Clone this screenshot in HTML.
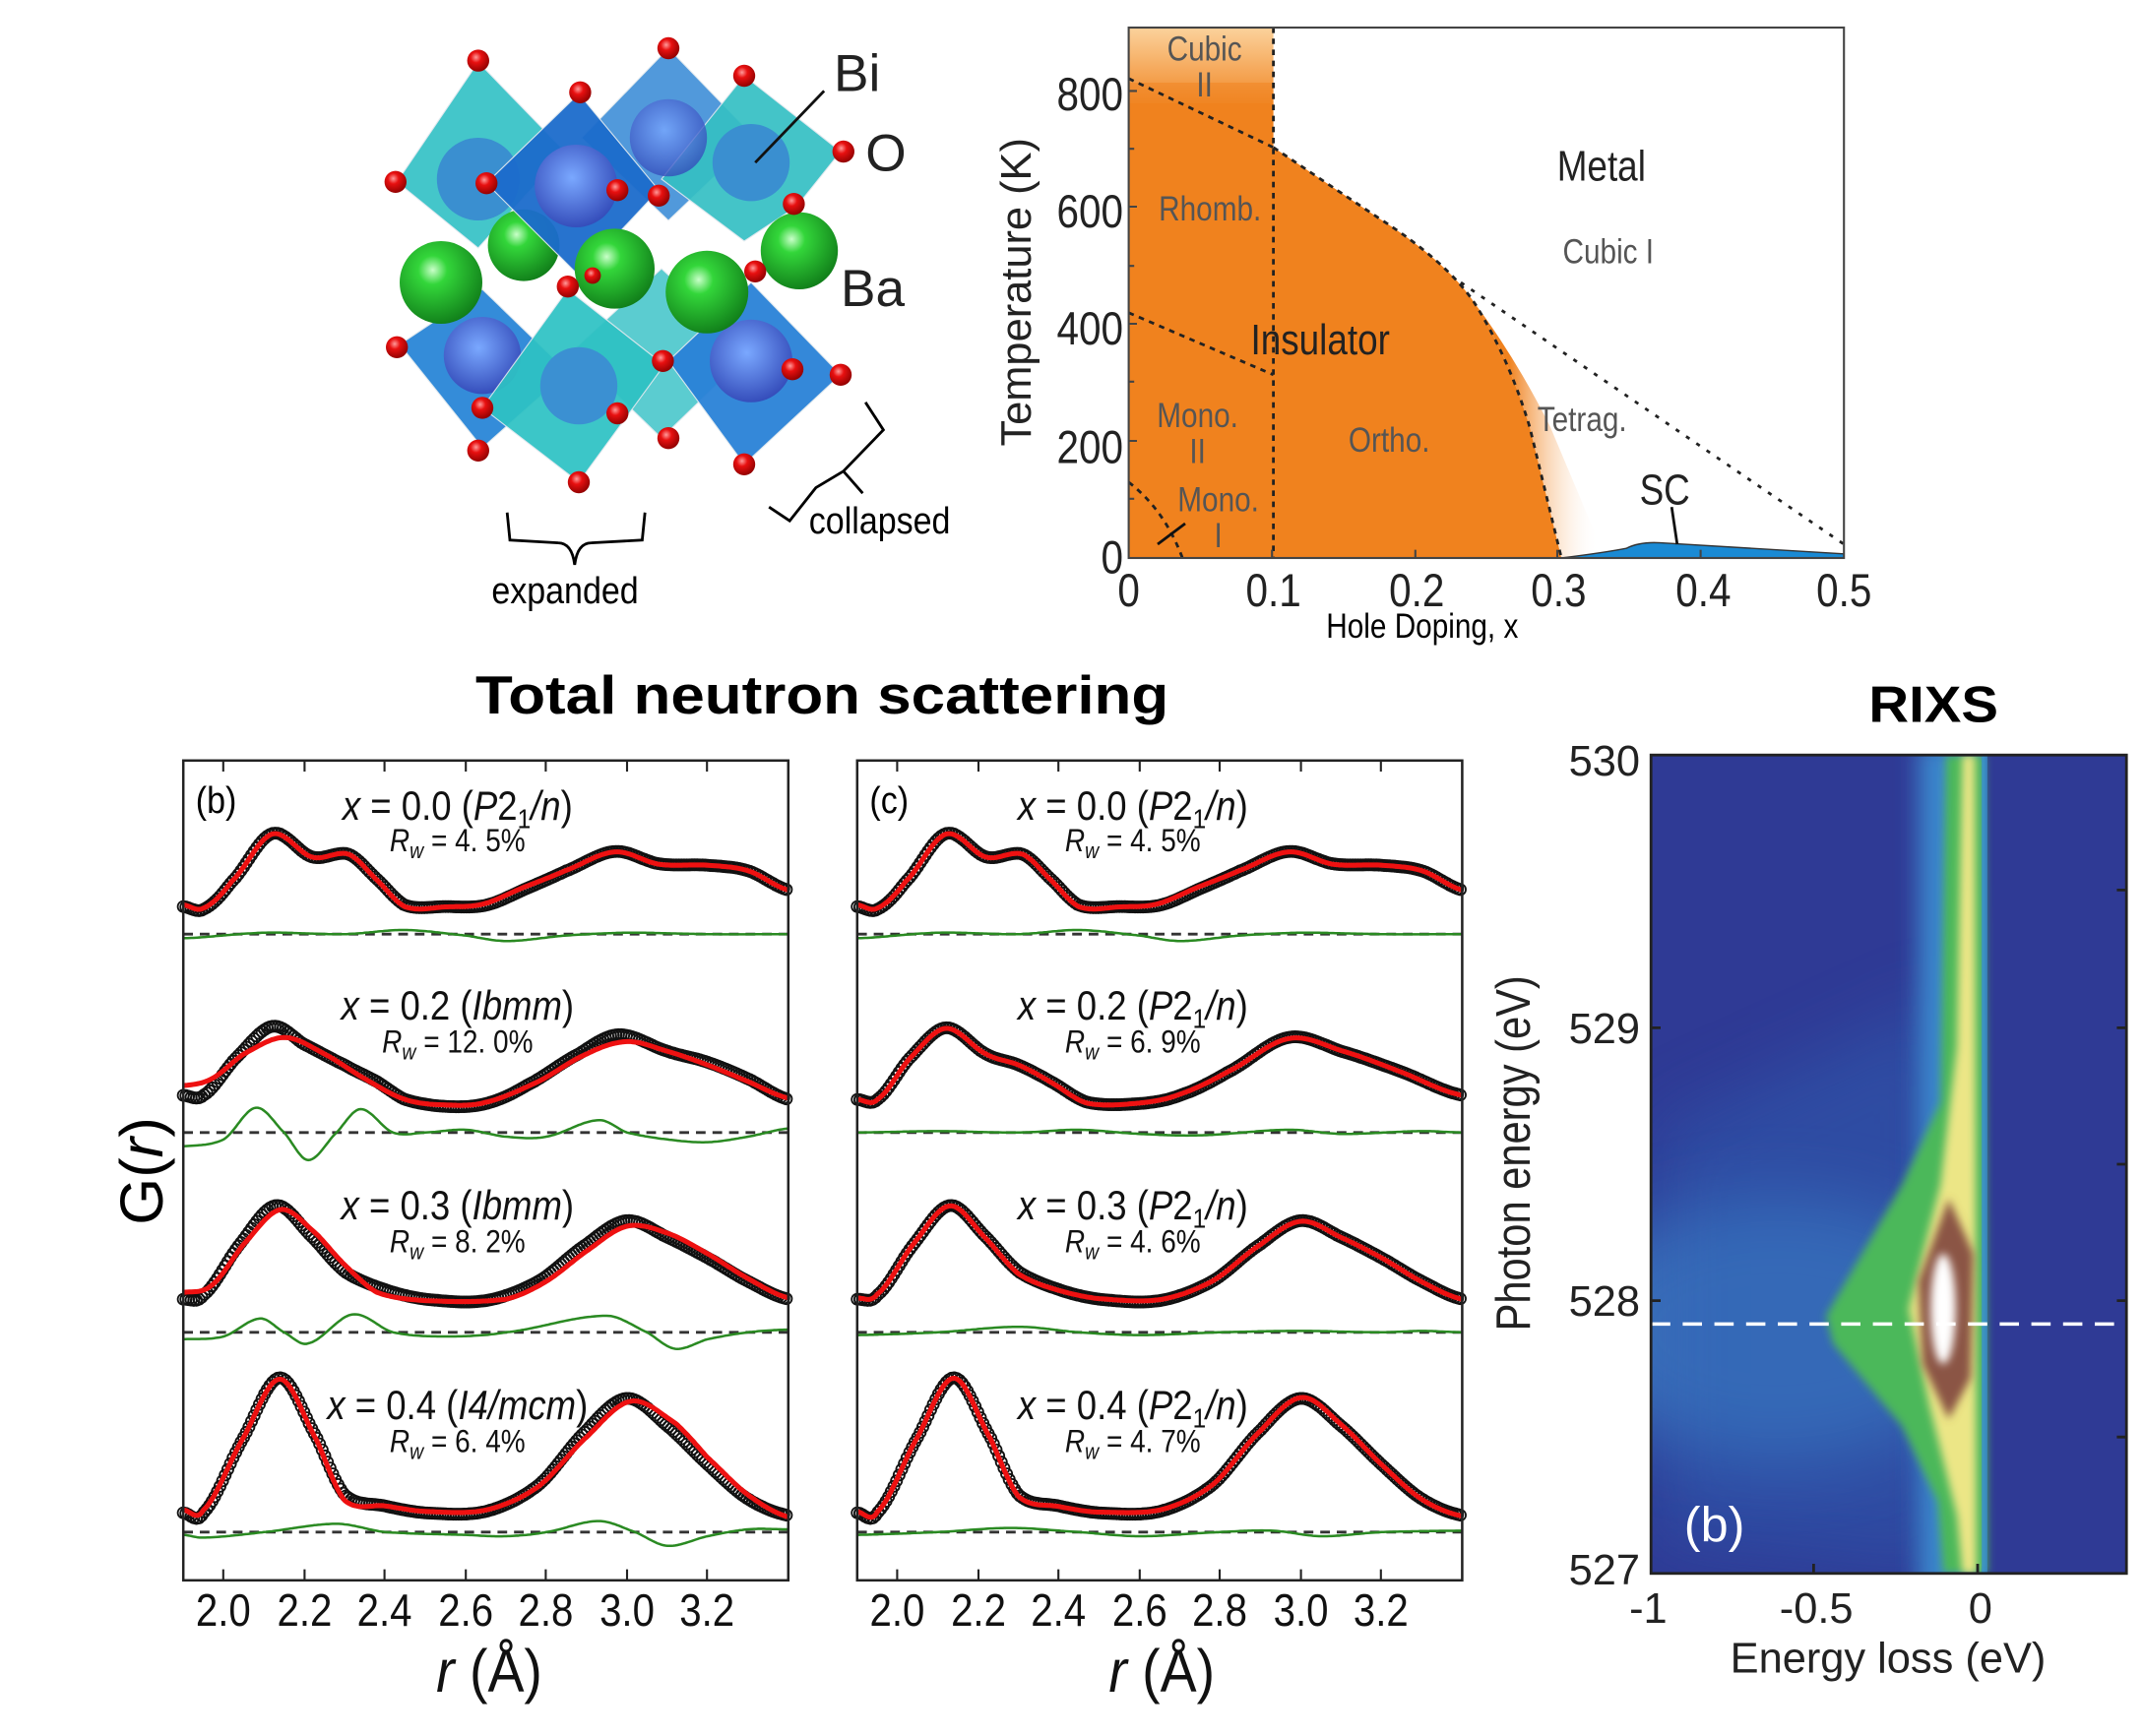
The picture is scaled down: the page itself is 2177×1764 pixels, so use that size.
<!DOCTYPE html>
<html><head><meta charset="utf-8"><style>
html,body{margin:0;padding:0;background:#fff}
svg{display:block}
text{font-family:"Liberation Sans",Arial,sans-serif}
</style></head><body>
<svg id="s" xmlns="http://www.w3.org/2000/svg" width="2177" height="1764" viewBox="0 0 1555 1260" preserveAspectRatio="none">
<defs>
<linearGradient id="cub" x1="0" y1="0" x2="0" y2="1"><stop offset="0" stop-color="#fbd29c"/><stop offset="1" stop-color="#f0821e"/></linearGradient>
<linearGradient id="tet" gradientUnits="userSpaceOnUse" x1="1095" y1="0" x2="1160" y2="0"><stop offset="0" stop-color="#f0821e"/><stop offset="1" stop-color="#ffffff" stop-opacity="0"/></linearGradient>
<radialGradient id="gs" cx="0.4" cy="0.35" r="0.7"><stop offset="0" stop-color="#c9ffc9"/><stop offset="0.25" stop-color="#33d63a"/><stop offset="1" stop-color="#0f7a18"/></radialGradient>
<radialGradient id="rs" cx="0.4" cy="0.35" r="0.7"><stop offset="0" stop-color="#ff9a9a"/><stop offset="0.35" stop-color="#e81010"/><stop offset="1" stop-color="#8a0000"/></radialGradient>
<radialGradient id="bs" cx="0.45" cy="0.4" r="0.7"><stop offset="0" stop-color="#7aa8ff"/><stop offset="1" stop-color="#2a3fb0"/></radialGradient>
<filter id="b3" x="-50%" y="-50%" width="200%" height="200%"><feGaussianBlur stdDeviation="3"/></filter>
<filter id="b4" x="-50%" y="-50%" width="200%" height="200%"><feGaussianBlur stdDeviation="4"/></filter>
<filter id="b8" x="-50%" y="-50%" width="200%" height="200%"><feGaussianBlur stdDeviation="8"/></filter>
<filter id="b25" x="-50%" y="-50%" width="200%" height="200%"><feGaussianBlur stdDeviation="25"/></filter>
<clipPath id="rx"><rect x="1198" y="548" width="345" height="594"/></clipPath>
<clipPath id="rxl"><rect x="1198" y="548" width="242" height="594"/></clipPath>
<clipPath id="pd"><rect x="819" y="20" width="519" height="385"/></clipPath>
</defs>

<!-- ===== Crystal ===== -->
<g id="crystal" stroke="#dfe8ee" stroke-width="0.8">
  <polygon points="485,35 548,100 485,160 422,100" fill="#3f8fd8" opacity="0.9"/>
  <polygon points="480,195 545,255 480,318 415,255" fill="#3fc4c8" opacity="0.85"/>
  <polygon points="347,45 410,110 347,180 288,132" fill="#35c2c6" opacity="0.92"/>
  <polygon points="540,55 610,110 578,150 540,175 480,130" fill="#35c0c4" opacity="0.92"/>
  <circle cx="347" cy="130" r="30" fill="#3a8fd0" stroke="none"/>
  <circle cx="545" cy="118" r="28" fill="#3a8fd0" stroke="none"/>
  <circle cx="485" cy="100" r="28" fill="url(#bs)" stroke="none" opacity="0.8"/>
  <circle cx="380" cy="178" r="26" fill="url(#gs)" stroke="none"/>
  <circle cx="580" cy="182" r="28" fill="url(#gs)" stroke="none"/>
  <polygon points="420,68 478,138 420,200 353,133" fill="#1c6ccc" opacity="0.95"/>
  <circle cx="418" cy="135" r="30" fill="url(#bs)" stroke="none"/>
  <polygon points="350,210 412,270 350,325 290,250" fill="#2a86d8" opacity="0.95"/>
  <polygon points="545,205 610,272 540,337 485,262" fill="#2a82d8" opacity="0.95"/>
  <circle cx="350" cy="258" r="28" fill="url(#bs)" stroke="none"/>
  <circle cx="545" cy="262" r="30" fill="url(#bs)" stroke="none"/>
  <polygon points="412,210 482,265 420,350 350,296" fill="#2ec2c4" opacity="0.93"/>
  <circle cx="420" cy="280" r="28" fill="#3b90d2" stroke="none"/>
  <circle cx="320" cy="205" r="30" fill="url(#gs)" stroke="none"/>
  <circle cx="446" cy="195" r="29" fill="url(#gs)" stroke="none"/>
  <circle cx="513" cy="212" r="30" fill="url(#gs)" stroke="none"/>
  <g fill="url(#rs)" stroke="none">
    <circle cx="347" cy="44" r="8"/><circle cx="485" cy="35" r="8"/><circle cx="421" cy="67" r="8"/><circle cx="540" cy="55" r="8"/>
    <circle cx="287" cy="132" r="8"/><circle cx="353" cy="133" r="8"/><circle cx="448" cy="138" r="8"/><circle cx="478" cy="142" r="8"/>
    <circle cx="612" cy="110" r="8"/><circle cx="576" cy="148" r="8"/><circle cx="412" cy="208" r="8"/><circle cx="548" cy="197" r="8"/>
    <circle cx="481" cy="262" r="8"/><circle cx="288" cy="252" r="8"/><circle cx="350" cy="296" r="8"/><circle cx="448" cy="300" r="8"/>
    <circle cx="575" cy="268" r="8"/><circle cx="610" cy="272" r="8"/><circle cx="347" cy="327" r="8"/><circle cx="420" cy="350" r="8"/>
    <circle cx="540" cy="337" r="8"/><circle cx="485" cy="318" r="8"/><circle cx="430" cy="200" r="6"/>
  </g>
</g>
<line x1="598" y1="66" x2="548" y2="118" stroke="#111" stroke-width="2"/>
<text x="605" y="66" font-size="38" fill="#222">Bi</text>
<text x="628" y="124" font-size="38" fill="#222">O</text>
<text x="610" y="222" font-size="38" fill="#222">Ba</text>
<path d="M368,372 L370,392 L405,394 Q415,394 417,410 Q419,394 429,394 L466,392 L468,372" fill="none" stroke="#000" stroke-width="2"/>
<text transform="translate(410,438) scale(0.9,1)" text-anchor="middle" font-size="27">expanded</text>
<path d="M628,292 L641,312 L612,342 L626,358 M612,342 L592,354 L573,378 L558,368" fill="none" stroke="#000" stroke-width="2"/>
<text transform="translate(587,387) scale(0.9,1)" font-size="27">collapsed</text>

<!-- ===== Phase diagram ===== -->
<g clip-path="url(#pd)">
<rect x="819" y="20" width="105" height="60" fill="url(#cub)"/>
<path d="M819,75 L924,75 L924,107 L1000,158 Q1050,190 1070,220 Q1095,260 1110,310 L1133,405 L819,405 Z" fill="#f0821e"/>
<rect x="819" y="60" width="105" height="20" fill="#f0821e" opacity="0.5"/>
<path d="M1070,220 Q1100,260 1125,310 L1165,405 L1133,405 L1110,310 Q1095,260 1070,220 Z" fill="url(#tet)"/>
<path d="M1133,405 Q1165,401 1180,398 Q1190,393 1205,394 L1338,402 L1338,406 L1133,406 Z" fill="#1a8ad4" stroke="#333" stroke-width="1"/>
</g>
<g fill="none" stroke="#222" stroke-width="2" stroke-dasharray="4,4">
<path d="M819,57 L924,107"/>
<path d="M924,20 L924,405"/>
<path d="M924,107 L1000,158 Q1050,190 1070,220 Q1095,260 1110,310 L1133,405"/>
<path d="M819,227 L924,272"/>
<path d="M819,350 Q845,370 858,405"/>
<path d="M1060,205 L1338,395" stroke-dasharray="3,6"/>
</g>
<path d="M840,395 L860,380" stroke="#111" stroke-width="2"/>
<path d="M1213,368 L1217,395" stroke="#111" stroke-width="2"/>
<rect x="819" y="20" width="519" height="385" fill="none" stroke="#444" stroke-width="1.5"/>
<g stroke="#444" stroke-width="1.5">
<path d="M819,320 h6 M819,235 h6 M819,150 h6 M819,66 h6 M819,362 h4 M819,277 h4 M819,193 h4 M819,108 h4"/>
<path d="M923,405 v-6 M1027,405 v-6 M1130,405 v-6 M1234,405 v-6"/>
</g>
<g font-size="34" text-anchor="end" fill="#222">
<text transform="translate(815,416) scale(0.85,1)">0</text>
<text transform="translate(815,336) scale(0.85,1)">200</text>
<text transform="translate(815,250) scale(0.85,1)">400</text>
<text transform="translate(815,165) scale(0.85,1)">600</text>
<text transform="translate(815,80) scale(0.85,1)">800</text>
</g>
<g font-size="34" text-anchor="middle" fill="#222">
<text transform="translate(819,440) scale(0.85,1)">0</text>
<text transform="translate(924,440) scale(0.85,1)">0.1</text>
<text transform="translate(1028,440) scale(0.85,1)">0.2</text>
<text transform="translate(1131,440) scale(0.85,1)">0.3</text>
<text transform="translate(1236,440) scale(0.85,1)">0.4</text>
<text transform="translate(1338,440) scale(0.85,1)">0.5</text>
</g>
<text transform="translate(748,212) rotate(-90)" text-anchor="middle" font-size="31" fill="#222">Temperature (K)</text>
<text transform="translate(1032,463) scale(0.85,1)" text-anchor="middle" font-size="25">Hole Doping, x</text>
<g fill="#555" font-size="25" text-anchor="middle">
<text transform="translate(874,44) scale(0.85,1)">Cubic</text>
<text transform="translate(874,70) scale(0.85,1)">II</text>
<text transform="translate(878,160) scale(0.85,1)">Rhomb.</text>
<text transform="translate(869,310) scale(0.85,1)">Mono.</text>
<text transform="translate(869,336) scale(0.85,1)">II</text>
<text transform="translate(884,371) scale(0.85,1)">Mono.</text>
<text transform="translate(884,397) scale(0.85,1)">I</text>
<text transform="translate(1008,328) scale(0.85,1)">Ortho.</text>
<text transform="translate(1148,313) scale(0.85,1)">Tetrag.</text>
<text transform="translate(1167,191) scale(0.85,1)">Cubic I</text>
</g>
<g fill="#222" font-size="31" text-anchor="middle">
<text transform="translate(1162,131) scale(0.85,1)">Metal</text>
<text transform="translate(958,257) scale(0.85,1)">Insulator</text>
<text transform="translate(1208,366) scale(0.85,1)">SC</text>
</g>

<!-- ===== Titles ===== -->
<text x="345" y="518" font-size="39" font-weight="bold" textLength="503" lengthAdjust="spacingAndGlyphs">Total neutron scattering</text>
<text x="1356" y="524" font-size="37" font-weight="bold" textLength="94" lengthAdjust="spacingAndGlyphs">RIXS</text>

<!-- ===== PDF panels ===== -->
<g id="curves"></g>
<g fill="none" stroke="#222" stroke-width="1.8">
<rect x="133" y="552" width="439" height="595"/>
<rect x="622" y="552" width="439" height="595"/>
</g>
<g stroke="#222" stroke-width="1.5">
<path d="M162,1147 v-8 M221,1147 v-8 M279,1147 v-8 M338,1147 v-8 M396,1147 v-8 M455,1147 v-8 M513,1147 v-8 M162,552 v8 M221,552 v8 M279,552 v8 M338,552 v8 M396,552 v8 M455,552 v8 M513,552 v8"/>
<path d="M651,1147 v-8 M710,1147 v-8 M768,1147 v-8 M827,1147 v-8 M885,1147 v-8 M944,1147 v-8 M1002,1147 v-8 M651,552 v8 M710,552 v8 M768,552 v8 M827,552 v8 M885,552 v8 M944,552 v8 M1002,552 v8"/>
</g>
<g font-size="33" text-anchor="middle" fill="#111">
<text transform="translate(162,1180) scale(0.87,1)">2.0</text><text transform="translate(221,1180) scale(0.87,1)">2.2</text><text transform="translate(279,1180) scale(0.87,1)">2.4</text><text transform="translate(338,1180) scale(0.87,1)">2.6</text><text transform="translate(396,1180) scale(0.87,1)">2.8</text><text transform="translate(455,1180) scale(0.87,1)">3.0</text><text transform="translate(513,1180) scale(0.87,1)">3.2</text>
<text transform="translate(651,1180) scale(0.87,1)">2.0</text><text transform="translate(710,1180) scale(0.87,1)">2.2</text><text transform="translate(768,1180) scale(0.87,1)">2.4</text><text transform="translate(827,1180) scale(0.87,1)">2.6</text><text transform="translate(885,1180) scale(0.87,1)">2.8</text><text transform="translate(944,1180) scale(0.87,1)">3.0</text><text transform="translate(1002,1180) scale(0.87,1)">3.2</text>
</g>
<g font-size="44" text-anchor="middle" fill="#111">
<text transform="translate(355,1228) scale(0.9,1)"><tspan font-style="italic">r</tspan> (Å)</text>
<text transform="translate(843,1228) scale(0.9,1)"><tspan font-style="italic">r</tspan> (Å)</text>
</g>
<text transform="translate(118,850) rotate(-90)" text-anchor="middle" font-size="44">G(<tspan font-style="italic">r</tspan>)</text>
<text transform="translate(142,590) scale(0.9,1)" font-size="27">(b)</text>
<text transform="translate(631,590) scale(0.9,1)" font-size="27">(c)</text>

<g font-size="30" text-anchor="middle" fill="#111">
<text transform="translate(332,595) scale(0.87,1)"><tspan font-style="italic">x</tspan> = 0.0 (<tspan font-style="italic">P</tspan>2<tspan dy="6" font-size="20">1</tspan><tspan dy="-6" font-style="italic">/n</tspan>)</text>
<text transform="translate(332,740) scale(0.87,1)"><tspan font-style="italic">x</tspan> = 0.2 (<tspan font-style="italic">Ibmm</tspan>)</text>
<text transform="translate(332,885) scale(0.87,1)"><tspan font-style="italic">x</tspan> = 0.3 (<tspan font-style="italic">Ibmm</tspan>)</text>
<text transform="translate(332,1030) scale(0.87,1)"><tspan font-style="italic">x</tspan> = 0.4 (<tspan font-style="italic">I4/mcm</tspan>)</text>
<text transform="translate(822,595) scale(0.87,1)"><tspan font-style="italic">x</tspan> = 0.0 (<tspan font-style="italic">P</tspan>2<tspan dy="6" font-size="20">1</tspan><tspan dy="-6" font-style="italic">/n</tspan>)</text>
<text transform="translate(822,740) scale(0.87,1)"><tspan font-style="italic">x</tspan> = 0.2 (<tspan font-style="italic">P</tspan>2<tspan dy="6" font-size="20">1</tspan><tspan dy="-6" font-style="italic">/n</tspan>)</text>
<text transform="translate(822,885) scale(0.87,1)"><tspan font-style="italic">x</tspan> = 0.3 (<tspan font-style="italic">P</tspan>2<tspan dy="6" font-size="20">1</tspan><tspan dy="-6" font-style="italic">/n</tspan>)</text>
<text transform="translate(822,1030) scale(0.87,1)"><tspan font-style="italic">x</tspan> = 0.4 (<tspan font-style="italic">P</tspan>2<tspan dy="6" font-size="20">1</tspan><tspan dy="-6" font-style="italic">/n</tspan>)</text>
</g>
<g font-size="23" text-anchor="middle" fill="#111">
<text transform="translate(332,618) scale(0.87,1)"><tspan font-style="italic">R</tspan><tspan dy="5" font-size="16" font-style="italic">w</tspan><tspan dy="-5"> = 4. 5%</tspan></text>
<text transform="translate(332,764) scale(0.87,1)"><tspan font-style="italic">R</tspan><tspan dy="5" font-size="16" font-style="italic">w</tspan><tspan dy="-5"> = 12. 0%</tspan></text>
<text transform="translate(332,909) scale(0.87,1)"><tspan font-style="italic">R</tspan><tspan dy="5" font-size="16" font-style="italic">w</tspan><tspan dy="-5"> = 8. 2%</tspan></text>
<text transform="translate(332,1054) scale(0.87,1)"><tspan font-style="italic">R</tspan><tspan dy="5" font-size="16" font-style="italic">w</tspan><tspan dy="-5"> = 6. 4%</tspan></text>
<text transform="translate(822,618) scale(0.87,1)"><tspan font-style="italic">R</tspan><tspan dy="5" font-size="16" font-style="italic">w</tspan><tspan dy="-5"> = 4. 5%</tspan></text>
<text transform="translate(822,764) scale(0.87,1)"><tspan font-style="italic">R</tspan><tspan dy="5" font-size="16" font-style="italic">w</tspan><tspan dy="-5"> = 6. 9%</tspan></text>
<text transform="translate(822,909) scale(0.87,1)"><tspan font-style="italic">R</tspan><tspan dy="5" font-size="16" font-style="italic">w</tspan><tspan dy="-5"> = 4. 6%</tspan></text>
<text transform="translate(822,1054) scale(0.87,1)"><tspan font-style="italic">R</tspan><tspan dy="5" font-size="16" font-style="italic">w</tspan><tspan dy="-5"> = 4. 7%</tspan></text>
</g>

<!-- ===== RIXS ===== -->
<g clip-path="url(#rx)">
<rect x="1198" y="548" width="345" height="594" fill="#2f3a95"/>
<g clip-path="url(#rxl)">
<ellipse cx="1290" cy="965" rx="150" ry="95" fill="#3f82c8" opacity="0.75" filter="url(#b25)"/>
<path d="M1198,820 L1420,720 L1420,1142 L1198,1120 Z" fill="#2f62b4" opacity="0.45" filter="url(#b25)"/>
<rect x="1392" y="540" width="60" height="620" fill="#3a86cc" filter="url(#b8)"/>
</g>
<path d="M1440,548 L1412,548 L1408,800 L1380,860 L1325,955 L1330,975 L1380,1035 L1406,1090 L1410,1142 L1442,1142 Z" fill="#4cb85a" filter="url(#b3)"/>
<path d="M1433,548 L1424,548 L1420,760 L1408,860 L1385,950 L1400,1020 L1420,1100 L1424,1142 L1434,1142 Z" fill="#ece686" filter="url(#b3)"/>
<path d="M1414,870 L1432,910 L1430,1000 L1414,1030 L1395,990 L1392,930 Z" fill="#8b5545" filter="url(#b3)"/>
<ellipse cx="1410" cy="950" rx="9" ry="40" fill="#ffffff" filter="url(#b3)"/>
<rect x="1438" y="548" width="4" height="594" fill="#3a8ed2" opacity="0.8"/>
<line x1="1198" y1="961" x2="1543" y2="961" stroke="#fff" stroke-width="2.5" stroke-dasharray="14,9"/>
</g>
<rect x="1198" y="548" width="345" height="594" fill="none" stroke="#222" stroke-width="2"/>
<g stroke="#222" stroke-width="2">
<path d="M1198,746 h7 M1198,944 h7 M1543,646 h-7 M1543,746 h-7 M1543,845 h-7 M1543,944 h-7 M1543,1043 h-7 M1316,1142 v-7 M1435,1142 v-7"/>
</g>
<g font-size="31" text-anchor="end" fill="#222">
<text x="1190" y="563">530</text><text x="1190" y="757">529</text><text x="1190" y="955">528</text><text x="1190" y="1150">527</text>
</g>
<g font-size="31" text-anchor="middle" fill="#222">
<text x="1196" y="1178">-1</text><text x="1318" y="1178">-0.5</text><text x="1437" y="1178">0</text>
</g>
<text x="1370" y="1214" text-anchor="middle" font-size="31" fill="#222">Energy loss (eV)</text>
<text transform="translate(1110,837) rotate(-90) scale(0.85,1)" text-anchor="middle" font-size="35" fill="#222">Photon energy (eV)</text>
<text x="1222" y="1119" font-size="36" fill="#fff">(b)</text>
</svg>
<script>
(function(){
var g=document.getElementById("curves");
function ev(p,r){
  if(r<=p[0][0])return p[0][1];
  var n=p.length;
  if(r>=p[n-1][0])return p[n-1][1];
  var i=0;while(i<n-2&&r>p[i+1][0])i++;
  var t=(r-p[i][0])/(p[i+1][0]-p[i][0]);
  var p0=p[Math.max(i-1,0)][1],p1=p[i][1],p2=p[i+1][1],p3=p[Math.min(i+2,n-1)][1];
  var t2=t*t,t3=t2*t;
  return 0.5*((2*p1)+(-p0+p2)*t+(2*p0-5*p1+4*p2-p3)*t2+(-p0+3*p1-3*p2+p3)*t3);
}
var D1=[[1.9,2],[1.95,0],[2.02,20],[2.12,55],[2.22,38],[2.31,40],[2.38,22],[2.45,3],[2.55,2],[2.65,3],[2.75,15],[2.85,28],[2.97,42],[3.08,33],[3.2,32],[3.3,28],[3.4,14]];
var D2b=[[1.9,8],[1.95,8],[2.03,35],[2.12,58],[2.2,45],[2.3,30],[2.38,18],[2.45,5],[2.55,0],[2.65,2],[2.75,15],[2.88,38],[2.98,52],[3.1,40],[3.2,32],[3.3,20],[3.4,5]];
var R2b=[[1.9,15],[1.97,20],[2.05,38],[2.15,50],[2.25,38],[2.35,20],[2.45,5],[2.55,1],[2.65,3],[2.78,18],[2.9,38],[3.0,47],[3.1,40],[3.2,30],[3.3,18],[3.4,6]];
var D2c=[[1.9,5],[1.95,5],[2.03,35],[2.12,57],[2.22,38],[2.3,30],[2.38,18],[2.47,3],[2.6,2],[2.7,8],[2.82,25],[2.97,50],[3.1,40],[3.25,25],[3.4,8]];
var D3=[[1.9,5],[1.95,8],[2.04,45],[2.13,73],[2.22,50],[2.3,25],[2.4,12],[2.5,5],[2.65,4],[2.78,18],[2.9,45],[3.0,62],[3.1,50],[3.2,35],[3.3,18],[3.4,5]];
var R3b=[[1.9,10],[1.97,15],[2.05,45],[2.14,70],[2.22,55],[2.3,30],[2.38,10],[2.5,4],[2.7,5],[2.8,18],[2.9,40],[3.0,58],[3.1,53],[3.2,38],[3.3,20],[3.4,6]];
var D4=[[1.9,5],[1.95,5],[2.05,60],[2.14,103],[2.23,60],[2.3,18],[2.4,10],[2.5,5],[2.65,6],[2.78,25],[2.9,65],[3.0,88],[3.1,68],[3.2,40],[3.3,15],[3.4,3]];
var R4b=[[1.9,7],[1.95,7],[2.05,60],[2.14,102],[2.23,58],[2.3,14],[2.4,10],[2.5,6],[2.65,7],[2.78,24],[2.9,60],[3.01,86],[3.12,70],[3.2,45],[3.3,18],[3.4,2]];
var F1=[[1.9,-3],[2.1,1],[2.3,0],[2.45,3],[2.6,-1],[2.7,-5],[2.85,-1],[3.0,1],[3.2,0],[3.4,0]];
var F2b=[[1.9,-10],[2.0,-5],[2.08,18],[2.15,0],[2.21,-20],[2.28,0],[2.34,17],[2.42,0],[2.5,0],[2.6,2],[2.7,-3],[2.8,-3],[2.93,9],[3.0,0],[3.1,-5],[3.2,-7],[3.3,-3],[3.4,3]];
var F3b=[[1.9,-5],[2.0,-3],[2.09,10],[2.15,0],[2.21,-8],[2.32,13],[2.42,0],[2.55,-3],[2.7,0],[2.95,12],[3.05,0],[3.12,-12],[3.2,-5],[3.3,0],[3.4,2]];
var F4b=[[1.9,-2],[1.95,-4],[2.1,0],[2.28,6],[2.4,0],[2.6,-2],[2.7,-3],[2.8,0],[2.93,8],[3.02,0],[3.1,-10],[3.2,-3],[3.3,2],[3.4,2]];
var Fc2=[[1.9,0],[2.1,1],[2.3,0],[2.45,2],[2.6,-1],[2.75,-2],[2.97,2],[3.1,-1],[3.3,1],[3.4,0]];
var Fc3=[[1.9,-2],[2.1,0],[2.3,4],[2.45,0],[2.6,-2],[2.8,0],[3.0,1],[3.2,0],[3.3,1],[3.4,0]];
var Fc4=[[1.9,-2],[2.1,0],[2.28,3],[2.45,0],[2.6,-3],[2.8,0],[2.93,1],[3.05,-3],[3.2,0],[3.4,1]];
var rows=[
 [133,D1,660,F1,678,null],[133,D2b,803,F2b,822,R2b],[133,D3,948,F3b,967,R3b],[133,D4,1103,F4b,1112,R4b],
 [622,D1,660,F1,678,null],[622,D2c,803,Fc2,822,null],[622,D3,948,Fc3,967,null],[622,D4,1103,Fc4,1112,null]
];
var html="";
rows.forEach(function(R){
  var x0=R[0],D=R[1],b=R[2],F=R[3],db=R[4],RF=R[5];
  function X(r){return x0+(r-1.9)*292.7;}
  html+='<line x1="'+x0+'" y1="'+db+'" x2="'+(x0+439)+'" y2="'+db+'" stroke="#333" stroke-width="2" stroke-dasharray="7,5"/>';
  var pg="",pf="";
  for(var r=1.9;r<=3.4001;r+=0.005){
    var d=ev(D,r),f=ev(F,r);
    var fit=RF?ev(RF,r):(d-0.4*f);
    var x=X(r).toFixed(1);
    pg+=(pg?"L":"M")+x+","+(db-f).toFixed(1);
    pf+=(pf?"L":"M")+x+","+(b-fit).toFixed(1);
  }
  html+='<path d="'+pg+'" fill="none" stroke="#2a8a22" stroke-width="1.8"/>';
  var cs="";
  for(var r2=1.9;r2<=3.4001;r2+=0.0065){
    var dd=ev(D,r2);
    cs+='<circle cx="'+X(r2).toFixed(1)+'" cy="'+(b-dd).toFixed(1)+'" r="4"/>';
  }
  html+='<g fill="none" stroke="#111" stroke-width="1.3">'+cs+'</g>';
  html+='<path d="'+pf+'" fill="none" stroke="#ee1111" stroke-width="3.6"/>';
});
g.innerHTML=html;
})();
</script>
</body></html>
